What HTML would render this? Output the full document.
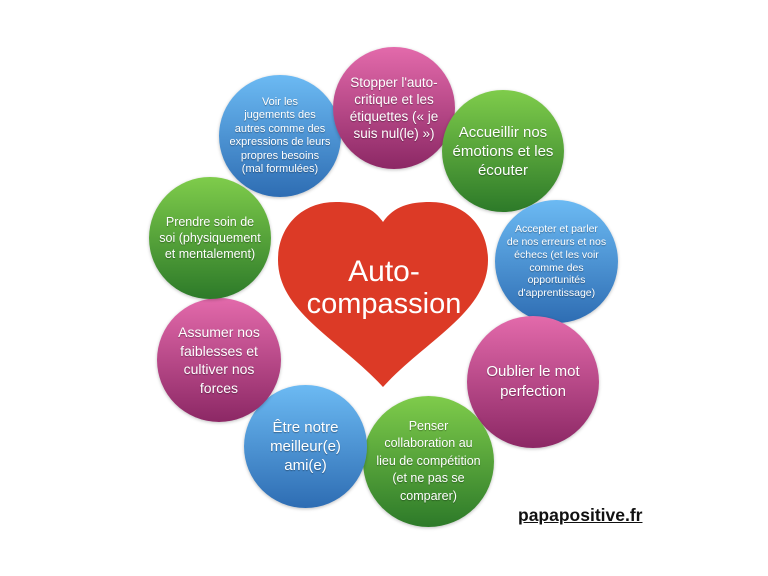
<!DOCTYPE html>
<html><head><meta charset="utf-8"><style>
body{margin:0;width:768px;height:576px;background:#fff;overflow:hidden;font-family:"Liberation Sans",Arial,sans-serif}
svg{position:absolute;left:0;top:0}
.c{position:absolute;border-radius:50%;display:flex;align-items:center;justify-content:center;text-align:center;color:#fff;text-shadow:0 1px 1px rgba(0,0,0,.35);box-shadow:0 1px 3px rgba(0,0,0,.25)}
.b{background:linear-gradient(#6cbaf3,#2e6db3)}
.p{background:linear-gradient(#e36aab,#8c2865)}
.g{background:linear-gradient(#7fcc4b,#2d7a29)}
.site{position:absolute;left:518px;top:505px;font-weight:bold;font-size:17.5px;text-decoration:underline;color:#111}
</style></head><body>
<svg width="768" height="576">
<path d="M383,222 C372,206 356,202 336,202 C300,202 278,228 278,260 C278,312 340,340 383,387 C426,340 488,312 488,260 C488,228 466,202 430,202 C410,202 394,206 383,222 Z" fill="#dc3a26"/>
<text x="384" y="281" text-anchor="middle" fill="#fff" font-family="Liberation Sans" font-size="30">Auto-</text>
<text x="384" y="313" text-anchor="middle" fill="#fff" font-family="Liberation Sans" font-size="29">compassion</text>
</svg>
<div class="c b" style="left:219px;top:75px;width:122px;height:122px;font-size:11px;line-height:13.5px">Voir les<br>jugements des<br>autres comme des<br>expressions de leurs<br>propres besoins<br>(mal formulées)</div>
<div class="c p" style="left:333px;top:47px;width:122px;height:122px;font-size:13.5px;line-height:17px">Stopper l'auto-<br>critique et les<br>étiquettes (« je<br>suis nul(le) »)</div>
<div class="c g" style="left:442px;top:90px;width:122px;height:122px;font-size:15px;line-height:19px">Accueillir nos<br>émotions et les<br>écouter</div>
<div class="c b" style="left:495px;top:200px;width:123px;height:123px;font-size:10.5px;line-height:12.8px">Accepter et parler<br>de nos erreurs et nos<br>échecs (et les voir<br>comme des<br>opportunités<br>d'apprentissage)</div>
<div class="c p" style="left:467px;top:316px;width:132px;height:132px;font-size:15px;line-height:20px">Oublier le mot<br>perfection</div>
<div class="c g" style="left:363px;top:396px;width:131px;height:131px;font-size:12.5px;line-height:17.5px">Penser<br>collaboration au<br>lieu de compétition<br>(et ne pas se<br>comparer)</div>
<div class="c b" style="left:244px;top:385px;width:123px;height:123px;font-size:15px;line-height:19px">Être notre<br>meilleur(e)<br>ami(e)</div>
<div class="c p" style="left:157px;top:298px;width:124px;height:124px;font-size:14px;line-height:18.5px">Assumer nos<br>faiblesses et<br>cultiver nos<br>forces</div>
<div class="c g" style="left:149px;top:177px;width:122px;height:122px;font-size:12.5px;line-height:16px">Prendre soin de<br>soi (physiquement<br>et mentalement)</div>
<div class="site">papapositive.fr</div>
</body></html>
